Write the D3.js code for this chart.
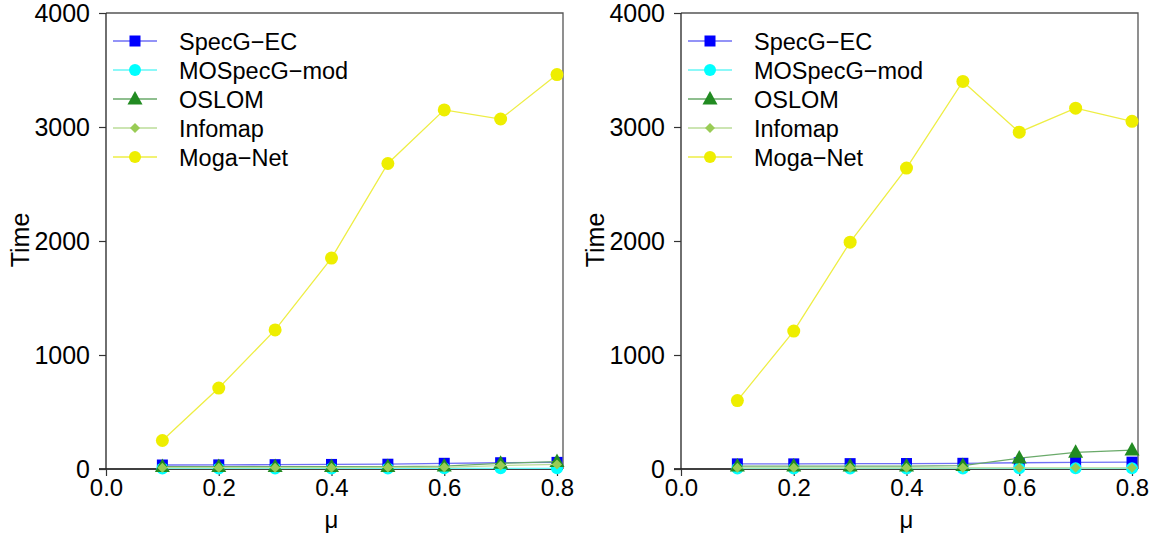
<!DOCTYPE html>
<html><head><meta charset="utf-8">
<script src="https://cdn.jsdelivr.net/npm/d3@7"></script>
<style>body{margin:0;background:#fff;} text{font-family:"Liberation Sans",Arial,sans-serif;}</style>
</head><body>
<svg id="c" width="1156" height="536"></svg>
<script>
const mu = [0.1, 0.2, 0.3, 0.4, 0.5, 0.6, 0.7, 0.8];
const seriesNames = ["SpecG\u2212EC", "MOSpecG\u2212mod", "OSLOM", "Infomap", "Moga\u2212Net"];
const xTicks = [0.0, 0.2, 0.4, 0.6, 0.8];
const yTicks = [0, 1000, 2000, 3000, 4000];

// Left panel values
const leftSpecG = [35, 36, 38, 40, 42, 50, 55, 58];
const leftMOSpecG = [5, 5, 5, 5, 5, 6, 6, 6];
const leftOSLOM = [20, 20, 20, 20, 20, 25, 50, 65];
const leftInfomap = [12, 12, 12, 12, 14, 15, 30, 40];
const leftMoga = [250, 710, 1220, 1850, 2680, 3150, 3070, 3460];

// Right panel values
const rightSpecG = [45, 45, 47, 48, 50, 55, 58, 60];
const rightMOSpecG = [5, 5, 5, 5, 5, 6, 6, 6];
const rightOSLOM = [25, 25, 25, 25, 30, 95, 145, 165];
const rightInfomap = [10, 10, 10, 10, 10, 10, 10, 10];
const rightMoga = [600, 1210, 1990, 2640, 3400, 2955, 3165, 3050];

const styles = [
  {color:"#0000ff", line:"#6f6ff5", shape:"square", size:11},
  {color:"#00ffff", line:"#66f6f6", shape:"circle", size:6},
  {color:"#228b22", line:"#6aaa6a", shape:"triangle", size:15},
  {color:"#99cc55", line:"#bbdd99", shape:"diamond", size:10},
  {color:"#eeee00", line:"#eeee44", shape:"circle", size:6.5}
];

const svg = d3.select("#c");

function marker(g, shape, size, color, x, y){
  if(shape==="square"){
    g.append("rect").attr("x",x-size/2).attr("y",y-size/2).attr("width",size).attr("height",size).attr("fill",color);
  } else if(shape==="circle"){
    g.append("circle").attr("cx",x).attr("cy",y).attr("r",size).attr("fill",color);
  } else if(shape==="triangle"){
    const h = size*0.9;
    g.append("path").attr("d",`M${x},${y-h*0.6}L${x+size/2},${y+h*0.4}L${x-size/2},${y+h*0.4}Z`).attr("fill",color);
  } else if(shape==="diamond"){
    const s=size/2;
    g.append("path").attr("d",`M${x},${y-s}L${x+s},${y}L${x},${y+s}L${x-s},${y}Z`).attr("fill",color);
  }
}

function panel(left, right, data){
  const top = 13, bottom = 469;
  const x = d3.scaleLinear().domain([0, 0.8]).range([left, right-6]);
  const y = d3.scaleLinear().domain([0, 4000]).range([bottom, top]);
  const g = svg.append("g");

  // box (top and right)
  g.append("path").attr("d",`M${left},${top}H${right}V${bottom}`).attr("fill","none").attr("stroke","#555").attr("stroke-width",1.3);

  // axes
  const ax = g.append("g").attr("transform",`translate(0,${bottom})`)
    .call(d3.axisBottom(x).tickValues(xTicks).tickFormat(d3.format(".1f")).tickSize(7).tickPadding(3));
  ax.select(".domain").attr("d",`M${left-7},0H${right}`).attr("stroke","#000").attr("stroke-width",1.3);
  ax.selectAll(".tick line").attr("stroke","#333").attr("stroke-width",1.2);
  ax.selectAll("text").attr("font-size",24).attr("fill","#000");

  const ay = g.append("g").attr("transform",`translate(${left},0)`)
    .call(d3.axisLeft(y).tickValues(yTicks).tickFormat(d3.format("d")).tickSize(7).tickPadding(9));
  ay.select(".domain").attr("d",`M0,${top}V${bottom}`).attr("stroke","#222").attr("stroke-width",1.3);
  ay.selectAll(".tick line").attr("stroke","#333").attr("stroke-width",1.2);
  ay.selectAll("text").attr("font-size",25).attr("fill","#000");

  // labels
  g.append("text").attr("x",(left+right)/2-3).attr("y",528).attr("text-anchor","middle").attr("font-size",24).text("\u03bc");
  g.append("text").attr("transform",`translate(${left-77},${(top+bottom)/2-1}) rotate(-90)`).attr("text-anchor","middle").attr("font-size",25).text("Time");

  // series
  data.forEach((vals,i)=>{
    const st = styles[i];
    const line = d3.line().x((d,j)=>x(mu[j])).y(d=>y(d));
    g.append("path").datum(vals).attr("d",line).attr("fill","none").attr("stroke",st.line).attr("stroke-width",1.3);
    const mg = g.append("g");
    vals.forEach((v,j)=>marker(mg, st.shape, st.size, st.color, x(mu[j]), y(v)));
  });

  // legend
  const lg = g.append("g");
  seriesNames.forEach((name,i)=>{
    const st = styles[i];
    const ly = 41 + i*29;
    lg.append("line").attr("x1",left+7).attr("x2",left+51).attr("y1",ly).attr("y2",ly).attr("stroke",st.line).attr("stroke-width",1.5);
    marker(lg, st.shape, st.shape==="circle"?6:st.size, st.color, left+29, ly);
    lg.append("text").attr("x",left+73).attr("y",ly+8.5).attr("font-size",23.5).text(name);
  });
}

panel(106, 563, [leftSpecG, leftMOSpecG, leftOSLOM, leftInfomap, leftMoga]);
panel(681, 1138, [rightSpecG, rightMOSpecG, rightOSLOM, rightInfomap, rightMoga]);
</script>
</body></html>
